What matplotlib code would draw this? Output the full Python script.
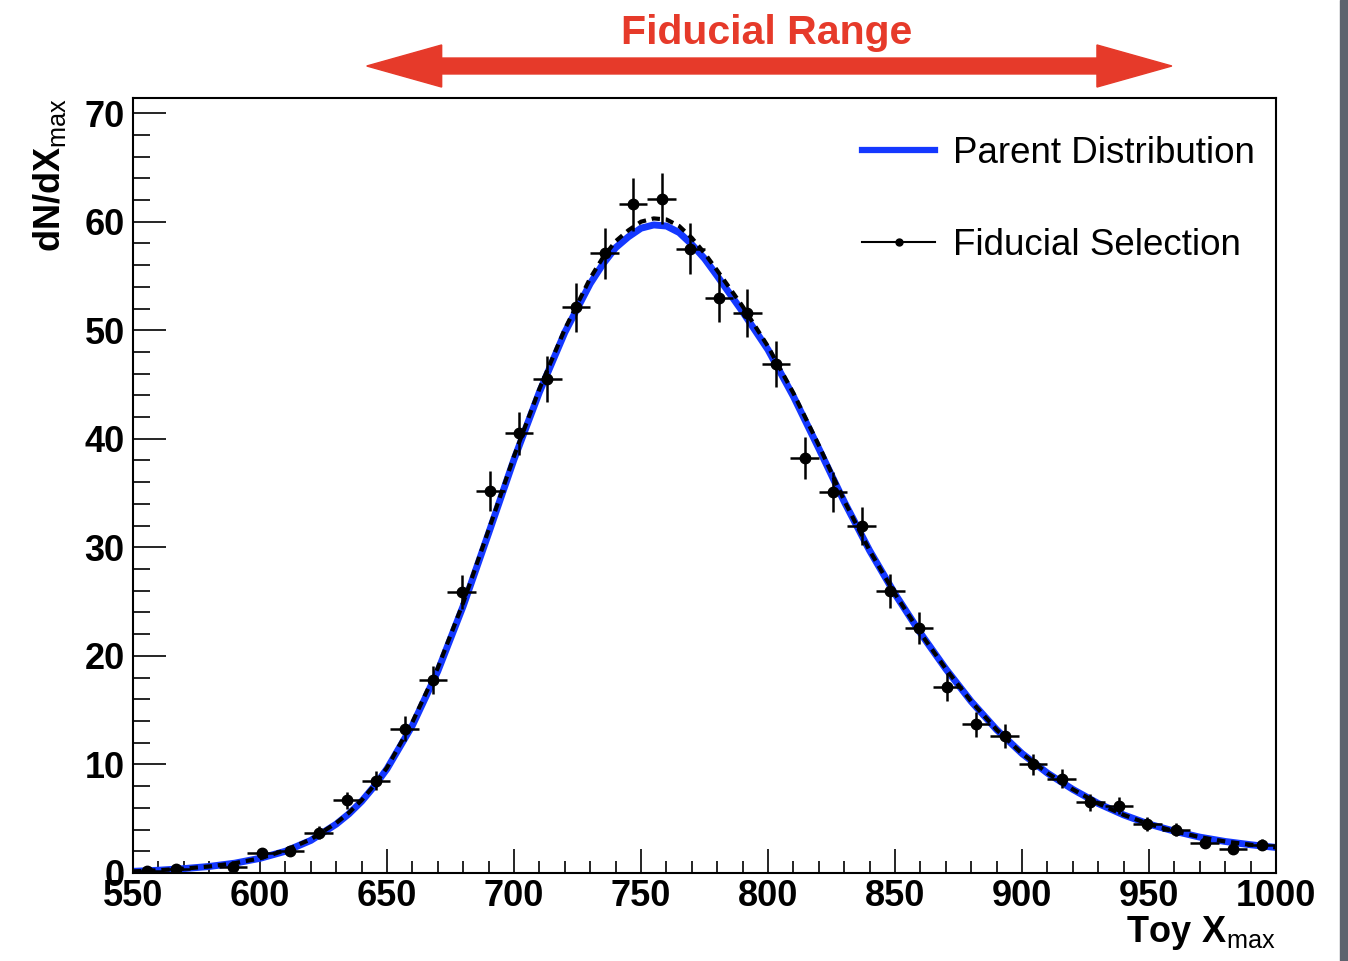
import numpy as np
import matplotlib
matplotlib.use('Agg')
import matplotlib.pyplot as plt
from matplotlib.patches import Polygon, Rectangle
from matplotlib.lines import Line2D
from matplotlib.transforms import blended_transform_factory
from matplotlib.ticker import MultipleLocator

plt.rcParams['font.family'] = ['Liberation Sans', 'DejaVu Sans']
plt.rcParams['mathtext.fontset'] = 'custom'
plt.rcParams['mathtext.rm'] = 'Liberation Sans'
plt.rcParams['mathtext.bf'] = 'Liberation Sans:bold'

# toy histogram, 40 bins from 550 to 1000 (empty bins are not drawn, like ROOT)
bin_edges = np.linspace(550, 1000, 41)
counts = np.array([0.2, 0.34, 0.0, 0.57, 1.8, 2.0, 3.7, 6.7, 8.5, 13.3,
                   17.8, 25.9, 35.2, 40.5, 45.5, 52.1, 57.1, 61.6, 62.1, 57.5,
                   53.0, 51.6, 46.9, 38.2, 35.1, 32.0, 26.0, 22.6, 17.1, 13.7,
                   12.6, 10.0, 8.7, 6.5, 6.2, 4.5, 4.0, 2.8, 2.2, 2.6])
count_err = np.array([0.14, 0.18, 0.0, 0.23, 0.42, 0.44, 0.6, 0.8, 0.9, 1.13,
                      1.3, 1.58, 1.84, 1.97, 2.09, 2.24, 2.34, 2.45, 2.35, 2.35,
                      2.26, 2.23, 2.12, 1.92, 1.84, 1.75, 1.58, 1.47, 1.28, 1.15,
                      1.10, 0.98, 0.91, 0.79, 0.77, 0.66, 0.62, 0.52, 0.46, 0.5])

# smooth curves
curve_x = [550, 560, 570, 580, 590, 600, 610, 620, 630, 635, 640, 645, 650, 660, 670, 680,
           690, 700, 710, 720, 730, 735, 740, 745, 750, 755, 760, 765, 770, 775,
           780, 790, 800, 810, 820, 830, 840, 850, 860, 870, 880, 890, 900, 910,
           920, 930, 940, 950, 960, 970, 980, 990, 1000]
parent_y = [0.15, 0.25, 0.4, 0.6, 0.9, 1.35, 2.0, 3.0, 4.5, 5.45, 6.6, 8.0, 9.6, 13.6, 18.6, 24.6,
            31.3, 38.1, 44.3, 49.8, 54.3, 56.1, 57.6, 58.6, 59.4, 59.7, 59.6, 59.0, 57.9, 56.6,
            55.0, 51.7, 48.2, 43.9, 39.1, 34.2, 29.7, 25.7, 22.1, 18.8, 15.8, 13.2, 11.0, 9.2,
            7.7, 6.4, 5.35, 4.5, 3.85, 3.3, 2.9, 2.6, 2.35]
fiducial_y = [0.15, 0.25, 0.4, 0.6, 0.9, 1.35, 2.1, 3.1, 4.6, 5.55, 6.7, 8.1, 9.7, 13.9, 18.9, 24.9,
              31.6, 38.4, 44.6, 50.1, 54.8, 56.7, 58.2, 59.2, 60.0, 60.3, 60.2, 59.6, 58.5, 57.1,
              55.5, 52.2, 48.5, 44.2, 39.4, 34.3, 29.7, 25.7, 22.1, 18.8, 15.8, 13.2, 11.0, 9.2,
              7.7, 6.4, 5.35, 4.5, 3.85, 3.3, 2.9, 2.6, 2.35]

labels = ['Parent Distribution', 'Fiducial Selection']
fid_range = [642, 959]
arrow_head = 29.5

blue = '#1438ff'
red = '#e63a2a'

fig = plt.figure(figsize=(13.48, 9.61), dpi=100)
ax = fig.add_axes([0.0987, 0.0916, 0.8479, 0.8065])

ax.plot(curve_x, parent_y, color=blue, lw=5.0, zorder=2, solid_joinstyle='round')
ax.plot(curve_x, fiducial_y, color='k', lw=3.0, ls=(0, (2, 1.4)), zorder=3)

centers = 0.5 * (bin_edges[:-1] + bin_edges[1:])
half_w = 0.5 * np.diff(bin_edges)
m = counts > 0
ax.errorbar(centers[m], counts[m], xerr=half_w[m], yerr=count_err[m], fmt='o',
            color='k', ms=7.5, elinewidth=1.8, capsize=0, zorder=4)

ax.set_xlim(550, 1000)
ax.set_ylim(0, 71.4)
ax.xaxis.set_major_locator(MultipleLocator(50))
ax.xaxis.set_minor_locator(MultipleLocator(10))
ax.yaxis.set_major_locator(MultipleLocator(10))
ax.yaxis.set_minor_locator(MultipleLocator(2))
ax.tick_params(which='both', direction='in', top=False, right=False, width=1.2)
ax.tick_params(axis='y', which='major', length=24, pad=6)
ax.tick_params(axis='y', which='minor', length=12)
ax.tick_params(axis='x', which='major', length=17, pad=4)
ax.tick_params(axis='x', which='minor', length=9)
for lab in ax.get_xticklabels() + ax.get_yticklabels():
    lab.set_fontsize(26)
    lab.set_fontweight('bold')
for sp in ax.spines.values():
    sp.set_linewidth(1.5)

ax.set_xlabel(r'$\mathbf{Toy\ X}_{\mathrm{max}}$', fontsize=26, loc='right', labelpad=0)
ax.set_ylabel(r'$\mathbf{dN/dX}_{\mathrm{max}}$', fontsize=26, loc='top', labelpad=12)

handles = [Line2D([], [], color=blue, lw=4.5),
           Line2D([], [], color='k', lw=1.5, marker='o', ms=5)]
ax.legend(handles, labels, loc='upper right', bbox_to_anchor=(0.9816, 0.951),
          frameon=False, fontsize=26.5, handlelength=1.98, handletextpad=0.49,
          labelspacing=1.55, borderpad=0, borderaxespad=0)

# fiducial range arrow above the frame
tr = blended_transform_factory(ax.transData, fig.transFigure)
yc, s, H = 1 - 66 / 961, 0.0083, 0.0219
x0, x1 = fid_range
verts = [(x0, yc), (x0 + arrow_head, yc + H), (x0 + arrow_head, yc + s),
         (x1 - arrow_head, yc + s), (x1 - arrow_head, yc + H), (x1, yc),
         (x1 - arrow_head, yc - H), (x1 - arrow_head, yc - s),
         (x0 + arrow_head, yc - s), (x0 + arrow_head, yc - H)]
fig.patches.append(Polygon(verts, closed=True, color=red, transform=tr, clip_on=False))
fig.text(0.5 * (x0 + x1) - 1, 1 - 44 / 961, 'Fiducial Range', transform=tr, color=red,
         fontsize=29.5, fontweight='bold', ha='center', va='baseline')

# dark strip on the right edge of the screenshot
fig.patches.append(Rectangle((1340 / 1348, 0), 8 / 1348, 1, transform=fig.transFigure,
                             color='#5e636e', zorder=0))

fig.savefig('out.png', dpi=100)
